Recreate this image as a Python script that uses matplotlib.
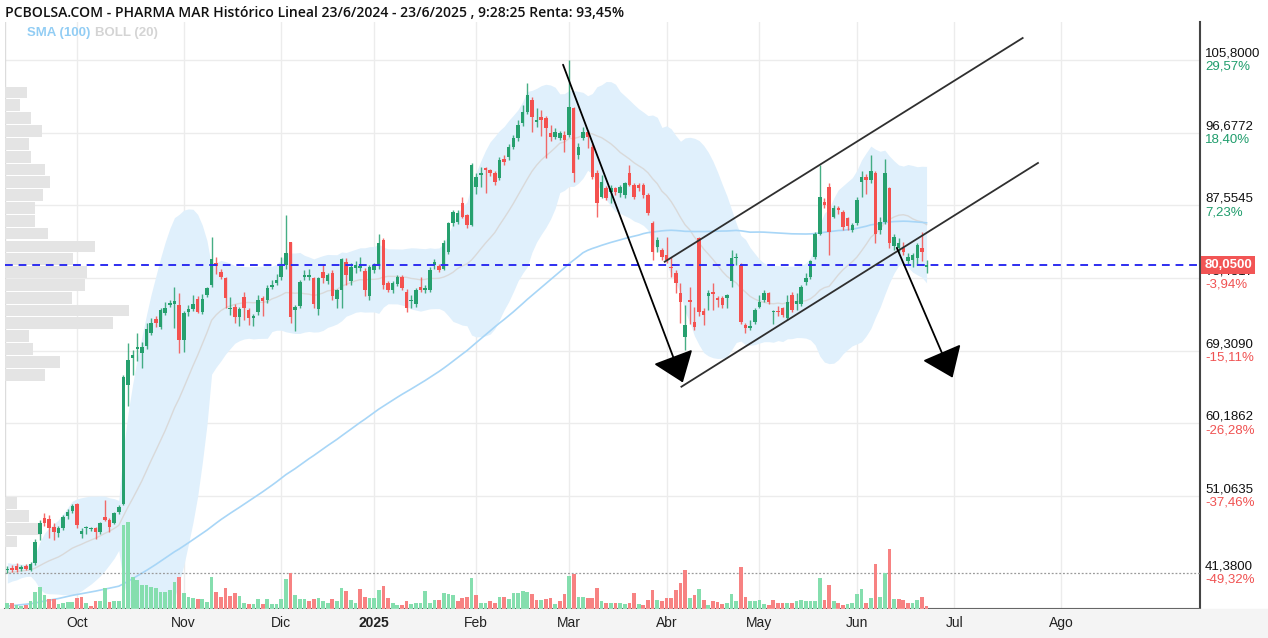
import math

import numpy as np
import pandas as pd
import matplotlib
matplotlib.use("Agg")
import matplotlib.pyplot as plt
from matplotlib.patches import Rectangle


# daily sessions 10/9/2024 .. 23/6/2025, index 0 = 1 Oct 2024
opens = [41.7, 42.0, 42.2, 41.9, 42.2, 41.8, 42.6, 46.3, 48.3, 48.1, 47.2, 46.4, 47.0, 48.5, 49.2,
         50.0, 46.3, 47.0, 46.9, 47.0, 46.5, 48.4, 48.0, 47.7, 49.0,
         50.0, 65.0, 68.4, 69.5, 69.0, 69.9, 71.5, 73.3, 72.3, 74.0,
         75.0, 75.2, 75.0, 70.6, 74.1, 74.5, 75.8, 74.2, 76.3, 77.5,
         80.3, 79.2, 78.4, 74.5, 74.8, 73.5, 76.0, 74.4, 73.4, 74.1,
         75.9, 75.6, 77.3, 77.8, 78.5, 80.0, 82.9, 74.4, 74.9, 78.6,
         78.6, 78.4, 74.5, 79.2, 78.1, 79.1, 75.8, 76.9, 80.4, 78.1,
         79.7, 79.7, 79.3, 76.1, 79.4, 79.9, 83.2, 77.8, 76.9, 77.7,
         78.6, 76.7, 75.5, 75.2, 77.3, 76.9, 76.9, 80.0, 79.9, 79.6,
         81.7, 85.3, 85.5, 87.8, 86.3, 85.1, 89.9, 91.35, 92.19, 91.98,
         91.56, 90.94, 93.32, 93.66, 94.91, 95.96, 97.84, 99.3, 100.77, 98.05,
         98.68, 98.47, 96.58, 96.17, 95.96, 96.38, 96.38, 99.72, 93.87, 95.96,
         96.79, 94.91, 91.56, 88.63, 89.68, 89.26, 89.68, 89.05, 88.84, 91.56,
         90.1, 90.1, 90.1, 88.84, 85.29, 82.36, 81.94, 81.31, 79.85, 79.0,
         76.5, 71.06, 75.66, 72.95, 83.4, 74.3, 76.1, 76.6, 75.9, 75.9,
         75.9, 78.0, 80.9, 80.05, 72.5, 72.2, 72.9, 74.8, 75.7, 76.5,
         74.1, 74.3, 74.6, 73.4, 76.3, 75.2, 75.2, 77.9, 78.6, 81.1,
         84.0, 88.0, 89.9, 86.1, 87.2, 86.75, 85.9, 84.45, 85.3, 90.5,
         91.1, 90.7, 91.6, 84.45, 85.5, 89.7, 82.4, 82.15, 82.15, 80.5,
         80.7, 80.9, 82.15, 79.85]
highs = [42.3, 42.4, 42.6, 42.4, 42.5, 42.7, 45.6, 48.0, 48.9, 48.6, 47.6, 47.3, 48.6, 49.4, 50.1,
         50.2, 47.0, 47.3, 47.2, 47.2, 47.8, 50.5, 48.3, 49.0, 49.9,
         66.3, 70.3, 69.4, 71.5, 70.4, 72.8, 73.4, 73.7, 74.6, 75.4,
         75.6, 77.3, 76.5, 74.3, 75.0, 76.3, 76.1, 76.4, 77.3, 83.6,
         81.0, 79.5, 78.6, 76.0, 75.1, 74.8, 76.6, 74.7, 73.9, 76.3,
         76.2, 77.5, 78.2, 78.9, 81.0, 86.3, 83.0, 75.0, 78.2, 79.4,
         79.6, 78.6, 78.6, 80.0, 79.0, 79.4, 77.0, 80.9, 80.9, 80.3,
         80.6, 81.0, 79.7, 80.0, 80.3, 84.0, 83.4, 78.1, 78.0, 78.8,
         78.8, 77.0, 76.3, 77.2, 78.5, 77.5, 79.8, 80.8, 80.2, 83.2,
         85.5, 86.9, 86.9, 88.6, 86.5, 92.8, 91.6, 92.4, 92.4, 92.1,
         91.8, 93.6, 93.9, 95.3, 96.4, 98.3, 100.1, 102.9, 101.2, 99.7,
         99.5, 98.8, 97.6, 97.2, 96.9, 96.9, 105.8, 99.9, 95.4, 97.4,
         97.0, 95.2, 92.0, 91.35, 90.0, 90.1, 89.9, 90.1, 90.5, 92.6,
         90.4, 90.3, 90.4, 89.1, 85.6, 83.6, 82.2, 83.6, 81.1, 79.4,
         77.8, 75.0, 77.3, 74.8, 83.6, 74.6, 76.9, 77.8, 76.2, 76.1,
         76.4, 81.9, 81.5, 80.3, 72.8, 73.1, 74.6, 76.3, 76.9, 76.6,
         74.4, 74.9, 74.8, 76.3, 76.6, 76.5, 77.5, 79.0, 80.7, 84.2,
         92.6, 88.4, 90.3, 87.6, 87.4, 86.9, 86.1, 85.3, 88.6, 91.8,
         91.5, 93.9, 91.8, 86.1, 93.4, 89.9, 84.0, 83.4, 83.0, 81.6,
         81.6, 82.8, 84.2, 80.7]
lows = [41.38, 41.5, 41.5, 41.6, 41.7, 41.6, 42.4, 45.5, 47.3, 45.8, 45.5, 45.9, 46.8, 48.2, 48.9,
        47.0, 45.8, 46.3, 46.6, 45.6, 46.3, 47.9, 46.5, 47.5, 48.8,
        49.9, 62.3, 66.2, 68.0, 67.1, 69.5, 71.2, 72.3, 72.0, 73.8,
        74.8, 72.1, 69.0, 69.1, 73.7, 74.3, 74.0, 73.9, 76.0, 77.3,
        78.9, 78.3, 74.6, 73.8, 72.8, 72.4, 73.2, 72.5, 72.4, 73.8,
        73.6, 75.3, 77.0, 77.5, 78.2, 79.6, 72.8, 71.8, 74.6, 78.2,
        78.2, 74.6, 73.8, 77.8, 77.7, 75.6, 74.6, 74.6, 77.6, 77.6,
        79.0, 79.3, 76.1, 75.7, 79.0, 79.5, 77.0, 76.6, 76.5, 77.4,
        76.9, 74.2, 74.6, 74.8, 76.6, 76.5, 76.6, 79.5, 79.2, 79.4,
        81.4, 84.9, 85.2, 85.9, 84.7, 84.9, 89.0, 89.9, 89.05, 91.2,
        90.1, 90.7, 92.6, 93.2, 94.6, 95.6, 97.5, 99.0, 96.79, 97.4,
        96.2, 93.45, 95.6, 95.9, 95.7, 94.2, 96.1, 90.5, 93.4, 95.7,
        94.7, 90.9, 86.1, 88.4, 88.2, 87.8, 88.9, 88.6, 88.4, 90.0,
        88.3, 89.3, 88.5, 86.3, 80.7, 81.7, 80.7, 80.3, 78.6, 76.5,
        72.8, 69.4, 72.7, 71.9, 73.6, 72.5, 74.4, 74.4, 74.8, 74.6,
        74.6, 77.3, 80.1, 72.7, 71.5, 71.9, 72.6, 74.6, 75.4, 75.2,
        72.7, 73.6, 73.5, 73.1, 74.2, 74.4, 74.9, 77.6, 78.3, 80.8,
        83.8, 87.2, 81.3, 85.9, 86.5, 84.4, 84.4, 84.2, 85.1, 88.6,
        89.0, 90.4, 82.8, 84.0, 85.2, 82.2, 81.9, 81.5, 81.3, 80.05,
        79.85, 80.0, 80.5, 79.0]
closes = [41.9, 41.7, 41.8, 42.1, 41.9, 42.5, 45.3, 47.7, 47.7, 47.0, 46.5, 47.0, 48.4, 49.1, 49.8,
          47.4, 46.6, 47.1, 47.0, 46.5, 47.7, 48.0, 47.2, 48.9, 49.7,
          66.0, 68.1, 68.8, 69.8, 69.8, 72.0, 72.8, 72.8, 74.4, 74.6,
          75.3, 75.5, 70.6, 74.0, 74.5, 75.2, 74.2, 75.8, 77.1, 80.8,
          79.9, 78.5, 75.9, 74.6, 73.5, 74.5, 74.6, 73.4, 73.6, 75.6,
          75.5, 77.1, 77.6, 78.2, 79.9, 81.5, 73.5, 74.8, 77.9, 78.8,
          78.7, 75.2, 78.4, 78.4, 78.8, 76.1, 76.9, 80.8, 78.8, 79.8,
          80.1, 79.9, 76.9, 79.8, 80.0, 82.8, 77.6, 76.9, 77.8, 78.6,
          77.1, 74.6, 75.6, 76.9, 76.9, 77.2, 79.4, 80.4, 79.4, 82.8,
          85.3, 86.7, 86.6, 86.1, 85.1, 92.6, 91.15, 91.56, 91.98, 91.56,
          90.52, 93.24, 93.03, 94.91, 95.96, 97.63, 99.3, 101.4, 98.68, 98.26,
          98.26, 97.21, 96.17, 96.79, 96.58, 95.75, 99.93, 91.56, 94.91, 96.79,
          96.17, 91.15, 87.8, 90.52, 88.43, 89.68, 89.26, 89.89, 90.31, 90.1,
          88.63, 89.68, 88.84, 86.54, 81.73, 83.2, 81.1, 80.68, 79.64, 77.76,
          75.45, 72.5, 75.45, 72.3, 74.2, 73.8, 76.5, 76.4, 75.7, 75.0,
          76.3, 80.9, 81.1, 72.9, 72.1, 72.4, 74.4, 75.45, 76.5, 75.45,
          74.3, 74.1, 73.8, 75.45, 74.4, 75.5, 77.3, 78.4, 80.5, 84.0,
          88.6, 87.6, 84.2, 87.2, 86.96, 84.87, 84.9, 85.1, 88.2, 91.1,
          90.7, 91.8, 84.0, 85.5, 91.6, 82.8, 83.6, 82.8, 81.7, 81.1,
          81.3, 82.6, 81.7, 80.05]
# thousands of shares
volumes = [142, 142, 100, 75, 100, 208, 432, 558, 350, 242, 242, 125, 142, 182, 182,
           268, 292, 158, 75, 208, 208, 518, 182, 208, 208,
           2100, 2182, 808, 725, 600, 600, 558, 518, 432, 432,
           475, 682, 808, 392, 292, 268, 242, 242, 182, 808,
           432, 308, 518, 325, 408, 325, 158, 125, 118, 242,
           125, 242, 125, 125, 242, 758, 900, 350, 242,
           262, 205, 245, 285, 205, 162, 262, 188, 530, 450,
           230, 148, 508, 310, 285, 285, 475, 572, 285, 148,
           98, 98, 205, 122, 140, 140, 450, 162, 230, 230,
           408, 368, 342, 205, 285, 310, 775, 350, 162, 162,
           205, 162, 310, 310, 245, 392, 408, 450, 425, 385,
           220, 220, 245, 285, 122, 205, 368, 832, 882, 310,
           310, 285, 285, 530, 205, 162, 162, 162, 140, 122,
           148, 408, 122, 98, 220, 475, 230, 188, 285, 285,
           465, 652, 965, 285, 350, 508, 230, 98, 205, 180,
           122, 140, 385, 188, 1062, 310, 188, 188, 230, 122,
           98, 230, 162, 140, 162, 140, 188, 230, 188, 188,
           188, 775, 230, 588, 188, 140, 105, 122, 140, 385,
           508, 162, 285, 1120, 310, 898, 1512, 245, 262, 230,
           162, 162, 220, 302, 82]
# sessions before the visible window, they only feed SMA(100) and BOLL(20)
pre_closes = [35.2, 35.6, 35.9, 36.3, 36.0, 35.7, 35.4, 35.8, 36.2, 36.5, 36.1, 35.8, 35.5, 35.9, 36.4, 36.8,
              36.5, 36.2, 35.9, 35.6, 35.3, 35.7, 36.0, 36.4, 36.7, 36.3, 35.9, 35.6, 35.4, 35.8, 36.1, 35.8,
              35.5, 35.2, 34.9, 35.3, 35.7, 36.0, 35.8, 35.4, 35.1, 35.5, 35.9, 36.2, 36.0, 35.7,
              35.4, 35.6, 35.9, 36.3, 36.1, 35.8, 35.5, 35.2, 35.6, 35.9, 36.2, 35.9, 35.6, 35.4,
              35.8, 36.1, 36.4, 36.2, 36.6, 36.9, 36.7, 37.0, 37.3, 37.1,
              36.8, 37.2, 37.5, 37.3, 37.0, 37.4, 37.7, 37.5, 37.9, 38.3,
              39.4, 40.0, 40.5, 40.2, 40.8, 41.1, 40.7, 41.3, 41.6, 41.2,
              41.8, 42.1, 41.7, 41.4, 42.0, 42.3, 41.9, 41.6, 42.0, 41.8]

# volume profile, 40 price bins from 41.38 up to 105.80
profile_vol = [0, 0, 12, 36, 24, 12, 0, 0, 0, 0, 0, 0, 0, 0, 0, 40, 55, 28, 24, 108,
               124, 67, 80, 82, 68, 90, 43, 30, 30, 38, 45, 40, 26, 24, 37, 26, 15, 22, 0, 0]

axis_levels = [105.8, 96.6772, 87.5545, 78.4317, 69.3090, 60.1862, 51.0635, 41.38]
ref_price = 81.65
last_price = 80.05
month_names = ["Oct", "Nov", "Dic", "2025", "Feb", "Mar", "Abr", "May", "Jun", "Jul", "Ago"]
holidays = ["2024-12-25", "2024-12-26", "2025-01-01", "2025-04-18", "2025-04-21", "2025-05-01"]

title = "PCBOLSA.COM - PHARMA MAR Histórico Lineal 23/6/2024 - 23/6/2025 , 9:28:25 Renta: 93,45%"

GREEN = "#26a06e"
RED = "#f4514f"
VGREEN = "#85deae"
VRED = "#f78282"
W, H = 1268, 638
NARROW = ["Liberation Sans Narrow", "Liberation Sans"]


def fmt_price(v):
    return f"{v:.4f}".replace(".", ",")


def fmt_pct(v):
    pct = math.trunc((v / ref_price - 1) * 10000) / 100
    return f"{pct:.2f}%".replace(".", ",")


def sessions():
    days = pd.bdate_range("2024-09-10", "2025-08-29")
    days = days[~days.isin(pd.to_datetime(holidays))]
    return days


def draw_candles(ax, x):
    o, h, l, c = map(np.array, (opens, highs, lows, closes))
    col = np.where(c >= o, GREEN, RED)
    ax.vlines(x, l, h, colors=col, lw=1, alpha=0.85, zorder=5)
    body = np.maximum(np.abs(c - o), 0.14)
    ax.bar(x, body, bottom=np.minimum(o, c), width=0.76, color=col, zorder=6)


def draw_indicators(ax, x):
    allc = pd.Series(pre_closes + closes)
    mid = allc.rolling(20).mean()
    sd = allc.rolling(20).std(ddof=0)
    sma = allc.rolling(100, min_periods=1).mean()
    n = len(closes)
    mid, sd, sma = mid.values[-n:], sd.values[-n:], sma.values[-n:]
    ax.fill_between(x, mid - 2 * sd, mid + 2 * sd, color="#e0f0fc", lw=0, zorder=2)
    ax.plot(x, mid, color="#d9d9d9", lw=1, zorder=3)
    ax.plot(x, sma, color="#a8d6f7", lw=1.2, zorder=3)


def draw_profile(ax, x0):
    edges = np.linspace(axis_levels[-1], axis_levels[0], len(profile_vol) + 1)
    pv = np.array(profile_vol, dtype=float)
    width = pv / pv.max() * 26.7
    ax.barh(edges[:-1], width, height=(edges[1] - edges[0]) * 0.92, left=x0,
            align="edge", color="#e4e4e4", zorder=2.5)


def draw_drawings(ax):
    col = "#2f2f2f"
    ax.plot([126.6, 203.7], [80.46, 108.55], color=col, lw=1.3, zorder=8)
    ax.plot([130.2, 207.0], [64.77, 92.86], color=col, lw=1.3, zorder=8)
    style = "-|>,head_length=0.9,head_width=0.67"
    ax.annotate("", xy=(130.5, 65.3), xytext=(104.7, 105.2),
                arrowprops=dict(arrowstyle=style, mutation_scale=20, color="black",
                                lw=1.3, shrinkA=0, shrinkB=0), zorder=9)
    ax.annotate("", xy=(188.6, 65.9), xytext=(176.6, 82.2),
                arrowprops=dict(arrowstyle=style, mutation_scale=20, color="black",
                                lw=1.3, shrinkA=0, shrinkB=0), zorder=9)


def main():
    days = sessions()
    idx = np.arange(len(days)) - 15
    x = idx[:len(closes)]

    fig = plt.figure(figsize=(W / 100, H / 100), dpi=100)
    fig.patches.append(Rectangle((0, 0), 1, 29 / H, transform=fig.transFigure,
                                 color="#f4f4f4", zorder=0))
    ax = fig.add_axes([5 / W, 29 / H, 1195 / W, 587 / H])
    xlo, xhi = -15.5, 241.9
    ax.set_xlim(xlo, xhi)
    ax.set_ylim(36.86, 110.56)

    # grid
    per = days.to_period("M")
    starts = [i for i in range(1, len(days)) if per[i] != per[i - 1]]
    for s in starts:
        ax.axvline(idx[s], color="#ececec", lw=1, zorder=0)
    for lv in axis_levels[:-1]:
        ax.axhline(lv, color="#ececec", lw=1, zorder=0)

    draw_profile(ax, xlo)
    draw_indicators(ax, x)
    draw_candles(ax, x)

    ax.axhline(axis_levels[-1], color="#9a9a9a", lw=0.9, ls=(0, (1.5, 1.5)), zorder=4)
    ax.axhline(last_price, color="#2e2ef0", lw=1.4, ls=(0, (4, 3)), zorder=7)
    draw_drawings(ax)

    # volume
    vax = ax.twinx()
    vol = np.array(volumes, dtype=float)
    prev = np.array([pre_closes[-1]] + closes[:-1])
    vcol = np.where(np.array(closes) >= prev, VGREEN, VRED)
    vax.bar(x, vol, width=0.8, color=vcol, zorder=2)
    vax.set_ylim(0, vol.max() * 587 / 87.3)
    vax.set_yticks([])
    for sp in vax.spines.values():
        sp.set_visible(False)

    ax.set_xticks([])
    ax.set_yticks([])
    for name in ("top", "left"):
        ax.spines[name].set_visible(False)
    ax.spines["right"].set_color("#444444")
    ax.spines["right"].set_linewidth(1.5)
    ax.spines["bottom"].set_color("#444444")
    ax.spines["bottom"].set_linewidth(1.5)
    ax.axvline(xlo, color="#dcdcdc", lw=1, zorder=0)

    # right axis labels
    lab = dict(xycoords=("axes fraction", "data"), textcoords="offset points",
               ha="left", va="center", fontsize=9.5, family="Liberation Sans",
               annotation_clip=False)
    for lv in axis_levels:
        pcol = "#1f9d6c" if lv > ref_price else "#f05252"
        ax.annotate(fmt_price(lv), xy=(1, lv), xytext=(3.6, 4.6), color="#111111", **lab)
        ax.annotate(fmt_pct(lv), xy=(1, lv), xytext=(3.6, -5.0), color=pcol, **lab)
    ax.annotate(fmt_price(last_price), xy=(1, last_price), xytext=(3.0, 0), color="white",
                weight="bold", zorder=20,
                bbox=dict(boxstyle="square,pad=0.22", fc="#f25555", ec="none"), **lab)

    # month labels
    for s, name in zip(starts, month_names):
        px = 5 + (idx[s] - xlo) / (xhi - xlo) * 1195
        fig.text(px / W, 1 - 623 / H, name, ha="center", va="center", fontsize=10,
                 family=NARROW, weight="bold" if name == "2025" else "normal", color="#222222")

    fig.text(5 / W, 1 - 13 / H, title, ha="left", va="center", fontsize=10.1,
             family="Open Sans", weight="semibold", color="#111111")
    fig.text(27 / W, 1 - 33 / H, "SMA (100)", ha="left", va="center", fontsize=9.5,
             family=NARROW, weight="bold", color="#92cdf4")
    fig.text(95 / W, 1 - 33 / H, "BOLL (20)", ha="left", va="center", fontsize=9.5,
             family=NARROW, weight="bold", color="#d4d4d4")

    fig.savefig("out.png", dpi=100)


if __name__ == "__main__":
    main()
